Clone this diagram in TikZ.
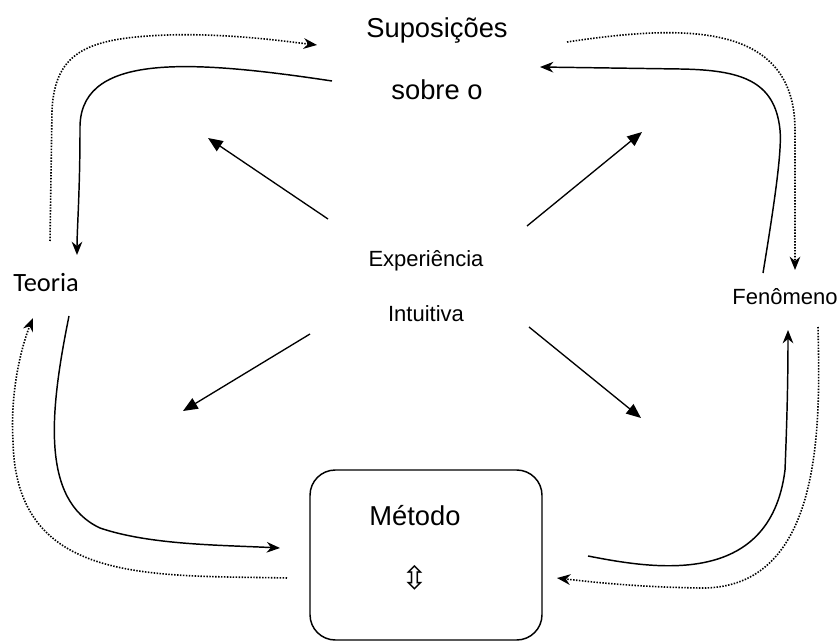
\documentclass[tikz,border=0pt]{standalone}
\usepackage{fontspec}
\setmainfont{Liberation Sans}
\newfontfamily\calib{Carlito}
\newfontfamily\djv{DejaVu Sans}
\usetikzlibrary{arrows.meta}
\begin{document}
\begin{tikzpicture}[x=0.75pt,y=-0.75pt,
  lbl/.style={anchor=base,inner sep=0pt},
  big/.style={lbl,font=\fontsize{20.5}{24}\selectfont},
  mid/.style={lbl,font=\fontsize{16.5}{20}\selectfont},
  solidcurve/.style={line width=1.1pt,-{Stealth[length=10pt,width=8pt]}},
  dotcurve/.style={line width=1.2pt,dash pattern=on 1.1pt off 1.1pt,-{Stealth[length=10pt,width=8pt]}},
  straightarrow/.style={line width=1pt,-{Triangle[length=11pt,width=9pt]}},
  methbox/.style={draw,line width=1.1pt,rounded corners=19pt}]
\path[use as bounding box,fill=white] (0,0) rectangle (838,641);

% texts
\node[big] (sup1) at (437,38) {Suposições};
\node[big] (sup2) at (437,100) {sobre o};
\node[mid] (exp1) at (426,267) {Experiência};
\node[mid] (exp2) at (426,322) {Intuitiva};
\node[lbl,font=\calib\fontsize{19.8}{24}\selectfont] (teo) at (46,292) {Teoria};
\node[mid] (fen) at (785,305) {Fenômeno};
\draw[methbox] (310,470) rectangle (542,640);
\node[big] (met) at (415,525) {Método};
\node[inner sep=0pt,font=\djv\fontsize{24}{28}\selectfont] (updown) at (415,578) {⇳};

% endpoints
\coordinate (a1) at (50,241);   \coordinate (a2) at (317,45);
\coordinate (b1) at (332,81);   \coordinate (b2) at (77,255);
\coordinate (c1) at (567,42);   \coordinate (c2) at (795,270);
\coordinate (d1) at (763,273);  \coordinate (d2) at (540,67);
\coordinate (e1) at (69,316);   \coordinate (e2) at (280,548);
\coordinate (f1) at (287,578);  \coordinate (f2) at (33,318);
\coordinate (g1) at (588,556);  \coordinate (g2) at (788,330);
\coordinate (h1) at (818,327);  \coordinate (h2) at (557,578);
\coordinate (s1) at (328,219);  \coordinate (s1t) at (208,138);
\coordinate (s2) at (527,226);  \coordinate (s2t) at (642,132);
\coordinate (s3) at (310,334);  \coordinate (s3t) at (183,411);
\coordinate (s4) at (529,327);  \coordinate (s4t) at (641,418);

% curved connectors
\draw[dotcurve] (a1) -- (52,110) .. controls (55,50) and (90,38) .. (167,35) .. controls (230,33) and (290,42) .. (a2);
\draw[solidcurve] (b1) .. controls (180,58) and (78,55) .. (80,130) .. controls (80,190) and (77,230) .. (b2);
\draw[dotcurve] (c1) .. controls (680,25) and (795,20) .. (795,130) -- (c2);
\draw[solidcurve] (d1) .. controls (775,200) and (782,150) .. (780,130) .. controls (775,80) and (740,70) .. (680,69) -- (d2);
\draw[solidcurve] (e1) .. controls (50,410) and (40,500) .. (100,528) .. controls (150,545) and (220,545) .. (e2);
\draw[dotcurve] (f1) .. controls (150,575) and (15,585) .. (13,440) .. controls (10,390) and (22,345) .. (f2);
\draw[solidcurve] (g1) .. controls (650,568) and (770,590) .. (785,470) .. controls (787,420) and (788,380) .. (g2);
\draw[dotcurve] (h1) .. controls (820,420) and (825,590) .. (700,588) .. controls (640,587) and (600,583) .. (h2);

% straight arrows
\draw[straightarrow] (s1) -- (s1t);
\draw[straightarrow] (s2) -- (s2t);
\draw[straightarrow] (s3) -- (s3t);
\draw[straightarrow] (s4) -- (s4t);
\end{tikzpicture}
\end{document}
